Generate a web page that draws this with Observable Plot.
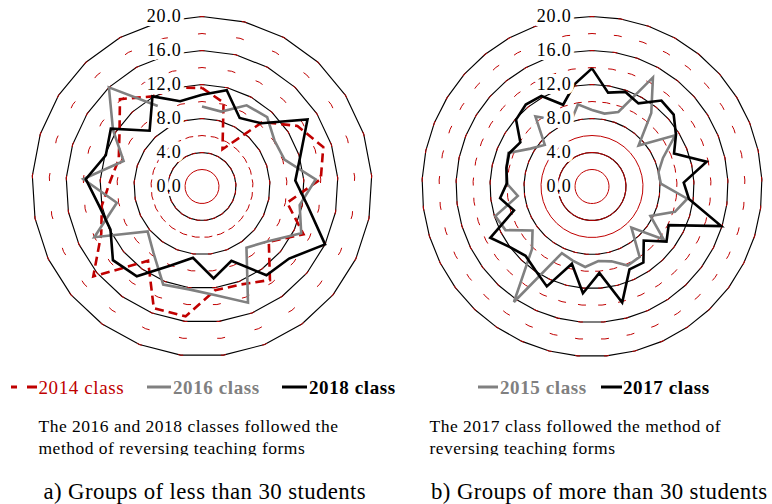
<!DOCTYPE html>
<html><head><meta charset="utf-8">
<script src="https://cdn.jsdelivr.net/npm/d3@7"></script>
<script src="https://cdn.jsdelivr.net/npm/@observablehq/plot@0.6"></script>
<style>
html,body{margin:0;padding:0;background:#fff;}
body{width:772px;height:504px;overflow:hidden;position:relative;font-family:"Liberation Serif","Times New Roman",serif;}
.panel{position:absolute;top:0;width:390px;height:372px;}
#notes{position:absolute;left:0;top:0;}
</style></head><body>
<div id="left" class="panel" style="left:0"></div>
<div id="right" class="panel" style="left:390px"></div>
<svg id="notes" width="772" height="504"></svg>
<script>
// ---- data ----
const tickValues = [0, 4, 8, 12, 16, 20];
const gridRings = [2, 4, 6, 8, 10, 12, 14, 16, 18, 20];
const majorRings = [4, 8, 12, 16, 20];

// a) groups of less than 30 students (25 items, clockwise from top)
const class2014 = [11.6, 10.2, 5.0, 10.4, 13.3, 15.0, 14.0, 10.2, 13.2, 10.2, 13.6, 12.4, 12.3, 15.4, 15.4, 10.8, 16.6, 13.1, 12.0, 10.8, 10.3, 11.5, 14.1, 12.1, 12.0];
const class2016 = [9.4, 9.1, 10.9, 11.2, 10.1, 10.2, 13.4, 11.7, 12.9, 10.1, 8.9, 14.7, 12.9, 12.2, 12.4, 9.7, 8.3, 14.0, 10.2, 14.0, 9.7, 12.4, 16.0, 10.8, null];
const class2018 = [10.8, 11.7, 9.2, 10.2, 14.7, 12.2, 11.0, 12.7, 16.0, 13.3, 12.9, 9.4, 10.9, 8.45, 10.0, 13.05, 13.6, 11.9, 12.3, 13.7, 11.9, 12.7, 9.0, 12.1, 10.35];

// b) groups of more than 30 students (37 items, clockwise from top)
const class2015 = [9.0, 8.7, 9.3, 14.7, 11.1, 7.3, 11.5, 9.0, 8.0, 8.1, 11.3, 10.2, 7.7, 10.5, 6.7, 10.0, 10.2, 9.1, 8.8, 9.5, 9.0, 8.6, 16.4, 10.2, 8.7, 11.4, 11.9, 8.8, 10.1, 10.3, 10.6, 8.5, 7.4, 10.6, 9.0, 7.8, 9.8];
const class2017 = [13.9, 11.2, 11.8, 11.2, 13.0, 12.8, 11.6, 10.4, 13.8, 10.8, 11.5, 15.9, 10.1, 10.9, 8.8, 10.8, 10.7, 14.1, 10.2, 12.6, 9.4, 12.9, 11.9, 11.3, 12.0, 13.4, 9.6, 10.9, 10.0, 10.3, 10.5, 9.9, 11.9, 12.4, 12.2, 10.2, 12.2];

const seriesA = [
  {name: "2014 class", values: class2014, color: "#c00000", dash: "9,5", bold: false},
  {name: "2016 class", values: class2016, color: "#808080", dash: null, bold: true},
  {name: "2018 class", values: class2018, color: "#000000", dash: null, bold: true}
];
const seriesB = [
  {name: "2015 class", values: class2015, color: "#808080", dash: null, bold: true},
  {name: "2017 class", values: class2017, color: "#000000", dash: null, bold: true}
];
const noteA = ["The 2016 and 2018 classes followed the", "method of reversing teaching forms"];
const noteB = ["The 2017 class followed the method of", "reversing teaching forms"];
const captionA = "a) Groups of less than 30 students";
const captionB = "b) Groups of more than 30 students";

// ---- drawing ----
const K = 8.5;            // pixels per data unit
const W = 390, H = 372, CX = 201.5, CY = 186;

function polar(v, i, N) {
  const a = 2 * Math.PI * i / N;
  return {x: v * Math.sin(a), y: v * Math.cos(a)};
}
function ringPoints(v, N) {
  return d3.range(N).map(i => ({v, ...polar(v, i, N)}));
}
function seriesPoints(values) {
  const N = values.length;
  const pts = values.map((v, i) => v == null ? {x: null, y: null} : polar(v, i, N));
  pts.push(pts[0]);
  return pts;
}

function radar(N, series) {
  const marks = [];
  marks.push(Plot.line(majorRings.flatMap(v => ringPoints(v, N)), {
    x: "x", y: "y", z: "v", curve: "linear-closed", stroke: "#000", strokeWidth: 1.15
  }));
  for (const v of gridRings) {
    const seg = 2 * v * K * Math.sin(Math.PI / N);
    const D = majorRings.includes(v) ? 5 : 8;
    const opts = {x: "x", y: "y", curve: "linear-closed", stroke: "#c00000", strokeWidth: 1, strokeLinecap: "butt"};
    if (seg > D + 0.8) { opts.strokeDasharray = `${D},${(seg - D).toFixed(2)}`; opts.strokeDashoffset = D / 2; }
    marks.push(Plot.line(ringPoints(v, N), opts));
  }
  for (const s of series) {
    const o = {x: "x", y: "y", stroke: s.color, strokeWidth: 2.6, strokeLinejoin: "miter", strokeMiterlimit: 4, strokeLinecap: "butt"};
    if (s.dash) o.strokeDasharray = s.dash;
    marks.push(Plot.line(seriesPoints(s.values), o));
  }
  marks.push(Plot.text(tickValues, {
    x: 0, y: d => d, text: d => d.toFixed(1), textAnchor: "end", dx: -20.5,
    fill: "#000", stroke: "#fff", strokeWidth: 8, fontSize: 18
  }));
  return Plot.plot({
    width: W, height: H, margin: 0,
    x: {domain: [-CX / K, (W - CX) / K], range: [0, W], axis: null},
    y: {domain: [-(H - CY) / K, CY / K], range: [H, 0], axis: null},
    style: {fontFamily: "Liberation Serif, Times New Roman, serif", letterSpacing: "0.8px", background: "transparent", overflow: "visible"},
    marks
  });
}

document.getElementById("left").append(radar(25, seriesA));
document.getElementById("right").append(radar(37, seriesB));

// ---- legends, notes, captions ----
const svg = d3.select("#notes");
const defs = svg.append("defs");
defs.append("clipPath").attr("id", "noteclip").append("rect").attr("x", 0).attr("y", 400).attr("width", 772).attr("height", 55.5);

function legend(items, lineX, textX) {
  items.forEach((s, i) => {
    const l = svg.append("line").attr("x1", lineX[i][0]).attr("x2", lineX[i][1]).attr("y1", 387).attr("y2", 387)
      .attr("stroke", s.color).attr("stroke-width", 3);
    if (s.dash) l.attr("stroke-dasharray", "6,10,10");
    svg.append("text").attr("x", textX[i]).attr("y", 393.5).text(s.name)
      .attr("fill", s.color).attr("font-size", 19).attr("letter-spacing", "0.6px")
      .attr("font-weight", s.bold ? "bold" : "normal");
  });
}
legend(seriesA, [[11, 37], [147, 171], [282, 307]], [38.5, 173, 309]);
legend(seriesB, [[478, 498], [601, 622]], [500, 623]);

function note(lines, x) {
  const g = svg.append("g").attr("clip-path", "url(#noteclip)");
  lines.forEach((t, i) => g.append("text").attr("x", x).attr("y", 432 + i * 21.5).text(t)
    .attr("font-size", 17.5).attr("letter-spacing", "0.5px").attr("fill", "#000"));
}
note(noteA, 38.5);
note(noteB, 429.5);

svg.append("text").attr("x", 43.5).attr("y", 498.5).text(captionA).attr("font-size", 22.8).attr("letter-spacing", "0.4px");
svg.append("text").attr("x", 431).attr("y", 498.5).text(captionB).attr("font-size", 22.8).attr("letter-spacing", "0.4px");
</script>
</body></html>
